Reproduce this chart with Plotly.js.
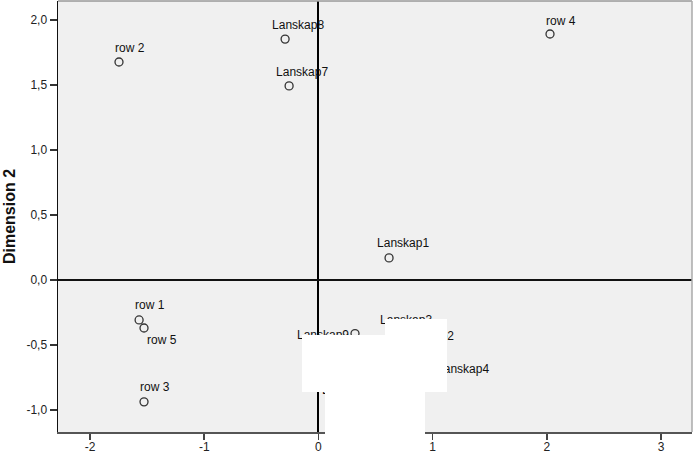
<!DOCTYPE html>
<html>
<head>
<meta charset="utf-8">
<script src="https://cdn.plot.ly/plotly-3.0.1.min.js"></script>
<style>html,body{margin:0;padding:0;background:#fff;}#chart{width:694px;height:454px;}</style>
</head>
<body>
<div id="chart"></div>
<script>
// ---- data ----
var pointNames = ['row 1', 'row 2', 'row 3', 'row 4', 'row 5',
                  'Lanskap1', 'Lanskap2', 'Lanskap3', 'Lanskap4', 'Lanskap5',
                  'Lanskap6', 'Lanskap7', 'Lanskap8', 'Lanskap9'];
var dim1 = [-1.570, -1.746, -1.527, 2.027, -1.527,
            0.618, 0.845, 0.653, 0.977, 0.320,
            0.145, -0.257, -0.292, -0.074];
var dim2 = [-0.307, 1.677, -0.937, 1.892, -0.369,
            0.170, -0.545, -0.398, -0.707, -0.412,
            -0.959, 1.493, 1.853, -0.507];
var xTickVals = [-2, -1, 0, 1, 2, 3];
var xTickText = ['-2', '-1', '0', '1', '2', '3'];
var yTickVals = [-1, -0.5, 0, 0.5, 1, 1.5, 2];
var yTickText = ['-1,0', '-0,5', '0,0', '0,5', '1,0', '1,5', '2,0'];
var yTitle = 'Dimension 2';

// ---- label placement (style, in pixels relative to each point) ----
var labelDx = [-4, -4, -4, -4, 3, -12, -13, -13, 7, 3, -13, -13, -13, -13];
var labelDy = [-14, -13, -14, -12, 13, -14, -14, -11, -2, 13, -14, -13, -13, -10];

var W = 694, H = 454;
var M = {l: 58, r: 2, t: 1, b: 22};
var xRange = [-2.28, 3.27];
var yRange = [-1.169, 2.146];
var pw = W - M.l - M.r, ph = H - M.t - M.b;
var ppuX = pw / (xRange[1] - xRange[0]);
var ppuY = ph / (yRange[1] - yRange[0]);

var labX = dim1.map(function (v, i) { return v + labelDx[i] / ppuX; });
var labY = dim2.map(function (v, i) { return v - labelDy[i] / ppuY; });

var FONT = 'Liberation Sans, Arial, sans-serif';

var points = {
  type: 'scatter', mode: 'markers', x: dim1, y: dim2,
  marker: {symbol: 'circle-open', size: 8, color: '#333', line: {width: 1.3, color: '#333'}},
  hoverinfo: 'skip', showlegend: false, cliponaxis: false
};
var labels = {
  type: 'scatter', mode: 'text', x: labX, y: labY, text: pointNames,
  textposition: 'middle right',
  textfont: {family: FONT, size: 12, color: '#111'},
  hoverinfo: 'skip', showlegend: false, cliponaxis: false
};

function px2paperX(p) { return (p - M.l) / pw; }
function px2paperY(p) { return (H - M.b - p) / ph; }
function whiteBox(x0, y0, x1, y1) {
  return {type: 'rect', xref: 'paper', yref: 'paper', layer: 'above',
    x0: px2paperX(x0), x1: px2paperX(x1), y0: px2paperY(y1), y1: px2paperY(y0),
    fillcolor: '#ffffff', line: {width: 0}};
}

var layout = {
  width: W, height: H,
  margin: M,
  paper_bgcolor: '#ffffff', plot_bgcolor: '#f0f0f0',
  font: {family: FONT, size: 12, color: '#222'},
  showlegend: false,
  xaxis: {
    range: xRange, tickvals: xTickVals, ticktext: xTickText,
    showgrid: false, zeroline: true, zerolinecolor: '#000', zerolinewidth: 2,
    showline: true, linecolor: '#555', linewidth: 2,
    ticks: 'outside', ticklen: 6, tickwidth: 1.5, tickcolor: '#444',
    ticklabelstandoff: -3,
    tickfont: {family: FONT, size: 12, color: '#222'}, fixedrange: true
  },
  yaxis: {
    range: yRange, tickvals: yTickVals, ticktext: yTickText,
    showgrid: false, zeroline: true, zerolinecolor: '#111', zerolinewidth: 2,
    showline: true, linecolor: '#111', linewidth: 1.5,
    ticks: 'outside', ticklen: 7, tickwidth: 1.5, tickcolor: '#333',
    tickfont: {family: FONT, size: 12, color: '#222'},
    title: {text: yTitle, font: {family: FONT, size: 16, weight: 'bold', color: '#111'}, standoff: 7},
    fixedrange: true
  },
  shapes: [
    {type: 'line', xref: 'paper', yref: 'paper', x0: 0, x1: 1, y0: 1, y1: 1, line: {color: '#999', width: 1.5}},
    {type: 'line', xref: 'paper', yref: 'paper', x0: 1, x1: 1, y0: 0, y1: 1, line: {color: '#aaa', width: 1.5}},
    whiteBox(302, 335, 385, 392),
    whiteBox(385, 319, 447, 392),
    whiteBox(325, 392, 425, 454)
  ]
};

Plotly.newPlot('chart', [points, labels], layout, {displayModeBar: false, staticPlot: true});
</script>
</body>
</html>
